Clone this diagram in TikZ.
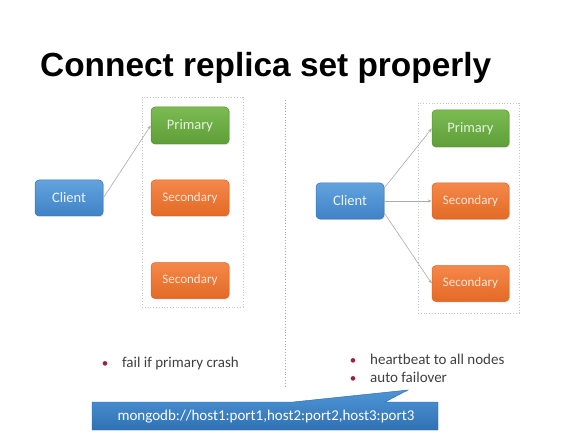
\documentclass[tikz,border=0pt]{standalone}
\usepackage{fontspec}
\setmainfont{Carlito}
\newfontfamily\titlefont{Liberation Sans}
\usetikzlibrary{arrows.meta,shadows}
\definecolor{cblueT}{HTML}{62A3DE}
\definecolor{cblueB}{HTML}{3F82C6}
\definecolor{cblueD}{HTML}{3B74B0}
\definecolor{cgreenT}{HTML}{7BBB52}
\definecolor{cgreenB}{HTML}{5F9E38}
\definecolor{cgreenD}{HTML}{5A9136}
\definecolor{corangeT}{HTML}{F5884A}
\definecolor{corangeB}{HTML}{E36A25}
\definecolor{corangeD}{HTML}{D8652A}
\definecolor{txtgray}{HTML}{404040}
\definecolor{bulred}{HTML}{A0203B}
\definecolor{calT}{HTML}{4F95D6}
\definecolor{calB}{HTML}{2F72B4}
\tikzset{
  box/.style={rounded corners=4pt, minimum width=78pt, minimum height=37pt, inner sep=0pt,
    drop shadow={opacity=0.18, shadow xshift=1pt, shadow yshift=-1.2pt}},
  clientbox/.style={box, minimum width=68pt, minimum height=36pt, draw=cblueD, line width=0.5pt,
    top color=cblueT, bottom color=cblueB, text=white!88!cblueT, font=\fontsize{14.5}{16}\selectfont},
  primbox/.style={box, draw=cgreenD, line width=0.5pt, top color=cgreenT, bottom color=cgreenB,
    text=white!80!cgreenT, font=\fontsize{14.5}{16}\selectfont},
  secbox/.style={box, minimum height=36pt, draw=corangeD, line width=0.5pt, top color=corangeT, bottom color=corangeB,
    text=white!78!corangeT, font=\fontsize{13}{15}\selectfont},
  groupbox/.style={draw=gray!45, dotted, line width=0.8pt, inner sep=0pt},
  conn/.style={draw=gray!65, line width=0.6pt, -{Stealth[length=4pt,width=3pt]}},
  bul/.style={anchor=base west, inner sep=0pt, text=txtgray, font=\fontsize{15}{18}\selectfont},
  bulmark/.style={anchor=base, inner sep=0pt, text=bulred, font=\fontsize{13}{18}\selectfont}
}
\begin{document}
\begin{tikzpicture}[x=1pt,y=-1pt]
\useasboundingbox[fill=white] (0,0) rectangle (588,438);
% title
\node[anchor=base west, inner sep=0pt, font=\titlefont\bfseries\fontsize{33.4}{38}\selectfont] (title) at (40,77) {Connect replica set properly};
% divider
\coordinate (dtop) at (285,100);
\coordinate (dbot) at (285,388);
\draw[gray!70, dotted, line width=0.8pt] (dtop) -- (dbot);
% left group
\node[groupbox, minimum width=101pt, minimum height=210pt] (lgrp) at (192.5,202) {};
\node[primbox] (lp) at (190,125.5) {Primary};
\node[secbox] (ls1) at (190,198) {Secondary};
\node[secbox] (ls2) at (190,280.5) {Secondary};
\node[clientbox] (lc) at (69,198) {Client};
\draw[conn] (lc.east) -- (lp.west);
% right group
\node[groupbox, minimum width=101pt, minimum height=210pt] (rgrp) at (468.5,208) {};
\node[primbox, minimum width=77pt] (rp) at (470.5,128.5) {Primary};
\node[secbox, minimum width=77pt] (rs1) at (470.5,201) {Secondary};
\node[secbox, minimum width=77pt] (rs2) at (470.5,283.5) {Secondary};
\node[clientbox] (rc) at (350,201) {Client};
\draw[conn] ([yshift=13pt]rc.east) -- (rp.west);
\draw[conn] (rc.east) -- (rs1.west);
\draw[conn] ([yshift=-12pt]rc.east) -- (rs2.west);
% bullets
\node[bulmark] (lb1) at (105,367) {\textbullet};
\node[bul] (lt1) at (122,367) {fail if primary crash};
\node[bulmark] (rb1) at (353,364) {\textbullet};
\node[bul] (rt1) at (370,364) {heartbeat to all nodes};
\node[bulmark] (rb2) at (353,382) {\textbullet};
\node[bul] (rt2) at (370,382) {auto failover};
% callout
\path[top color=calT, bottom color=calB, draw=calB!90!black, line width=0.4pt]
  (92,402) -- (293,402) -- (408,390) -- (385,402) -- (438,402) -- (438,430) -- (92,430) -- cycle;
\node[inner sep=0pt, text=white, font=\fontsize{15}{18}\selectfont] (url) at (266,417) {mongodb://host1:port1,host2:port2,host3:port3};
\end{tikzpicture}
\end{document}
